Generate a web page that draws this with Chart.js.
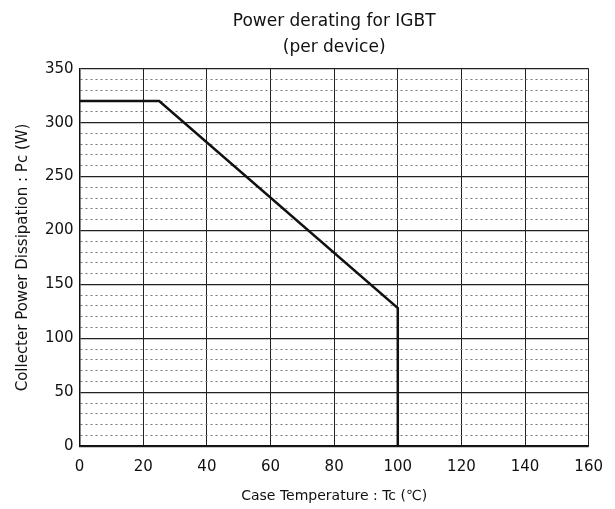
<!DOCTYPE html>
<html>
<head>
<meta charset="utf-8">
<script src="https://cdn.jsdelivr.net/npm/chart.js@4/dist/chart.umd.min.js"></script>
<style>
  html, body { margin: 0; padding: 0; background: #fff; }
  #wrap { width: 615px; height: 509px; }
</style>
</head>
<body>
<div id="wrap"><canvas id="myChart"></canvas></div>
<script>
// derating curve
var temps = [0, 25, 100, 100];
var power = [320, 320, 128, 0];
var xTicks = [0, 20, 40, 60, 80, 100, 120, 140, 160];
var yTicks = [0, 50, 100, 150, 200, 250, 300, 350];

var points = temps.map(function(t, i){ return {x: t, y: power[i]}; });
var fontName = "'DejaVu Sans', sans-serif";

var ctx = document.getElementById("myChart");
var myChart = new Chart(ctx, {
    type: 'scatter',
    data: {
        datasets: [{
            label: 'Pc',
            data: points,
            showLine: true,
            borderColor: '#111',
            borderWidth: 2.5,
            pointRadius: 0,
            tension: 0
        }]
    },
    options: {
        responsive: true,
        maintainAspectRatio: false,
        animation: false,
        layout: { padding: { left: 10, right: 26, top: 0, bottom: 0 } },
        plugins: {
            legend: { display: false },
            tooltip: { enabled: false },
            title: {
                display: true,
                fullSize: false,
                text: ['Power derating for IGBT', '(per device)'],
                color: '#111',
                font: { family: fontName, size: 17, weight: 'normal', lineHeight: 1.55 },
                padding: { top: 8, bottom: 8 }
            }
        },
        scales: {
            x: {
                type: 'linear',
                min: xTicks[0],
                max: xTicks[xTicks.length - 1],
                afterBuildTicks: function(axis){
                    axis.ticks = xTicks.map(function(v){ return {value: v}; });
                },
                ticks: { color: '#111', font: { family: fontName, size: 15 }, padding: 12 },
                grid: { color: '#222', lineWidth: 1, drawTicks: false },
                border: { color: '#111', width: 1.5 },
                title: {
                    display: true,
                    text: 'Case Temperature : Tc (\u2103)',
                    color: '#111',
                    font: { family: fontName, size: 14 },
                    padding: { top: 0 }
                }
            },
            y: {
                min: yTicks[0],
                max: yTicks[yTicks.length - 1],
                ticks: {
                    stepSize: 10,
                    autoSkip: false,
                    color: '#111',
                    font: { family: fontName, size: 15 },
                    padding: 6,
                    callback: function(v){ return yTicks.indexOf(v) >= 0 ? v : ''; }
                },
                grid: {
                    drawTicks: false,
                    color: function(c){ return (c.tick && c.tick.value % 50 === 0) ? '#222' : '#777'; },
                    lineWidth: function(c){ return (c.tick && c.tick.value % 50 === 0) ? 1.2 : 1; }
                },
                border: {
                    color: '#111',
                    width: 1.5,
                    dash: function(c){ return (c.tick && c.tick.value % 50 === 0) ? [] : [2, 3]; }
                },
                title: {
                    display: true,
                    text: 'Collecter Power Dissipation : Pc (W)',
                    color: '#111',
                    font: { family: fontName, size: 15 },
                    padding: { bottom: 7 }
                }
            }
        }
    }
});
</script>
</body>
</html>
